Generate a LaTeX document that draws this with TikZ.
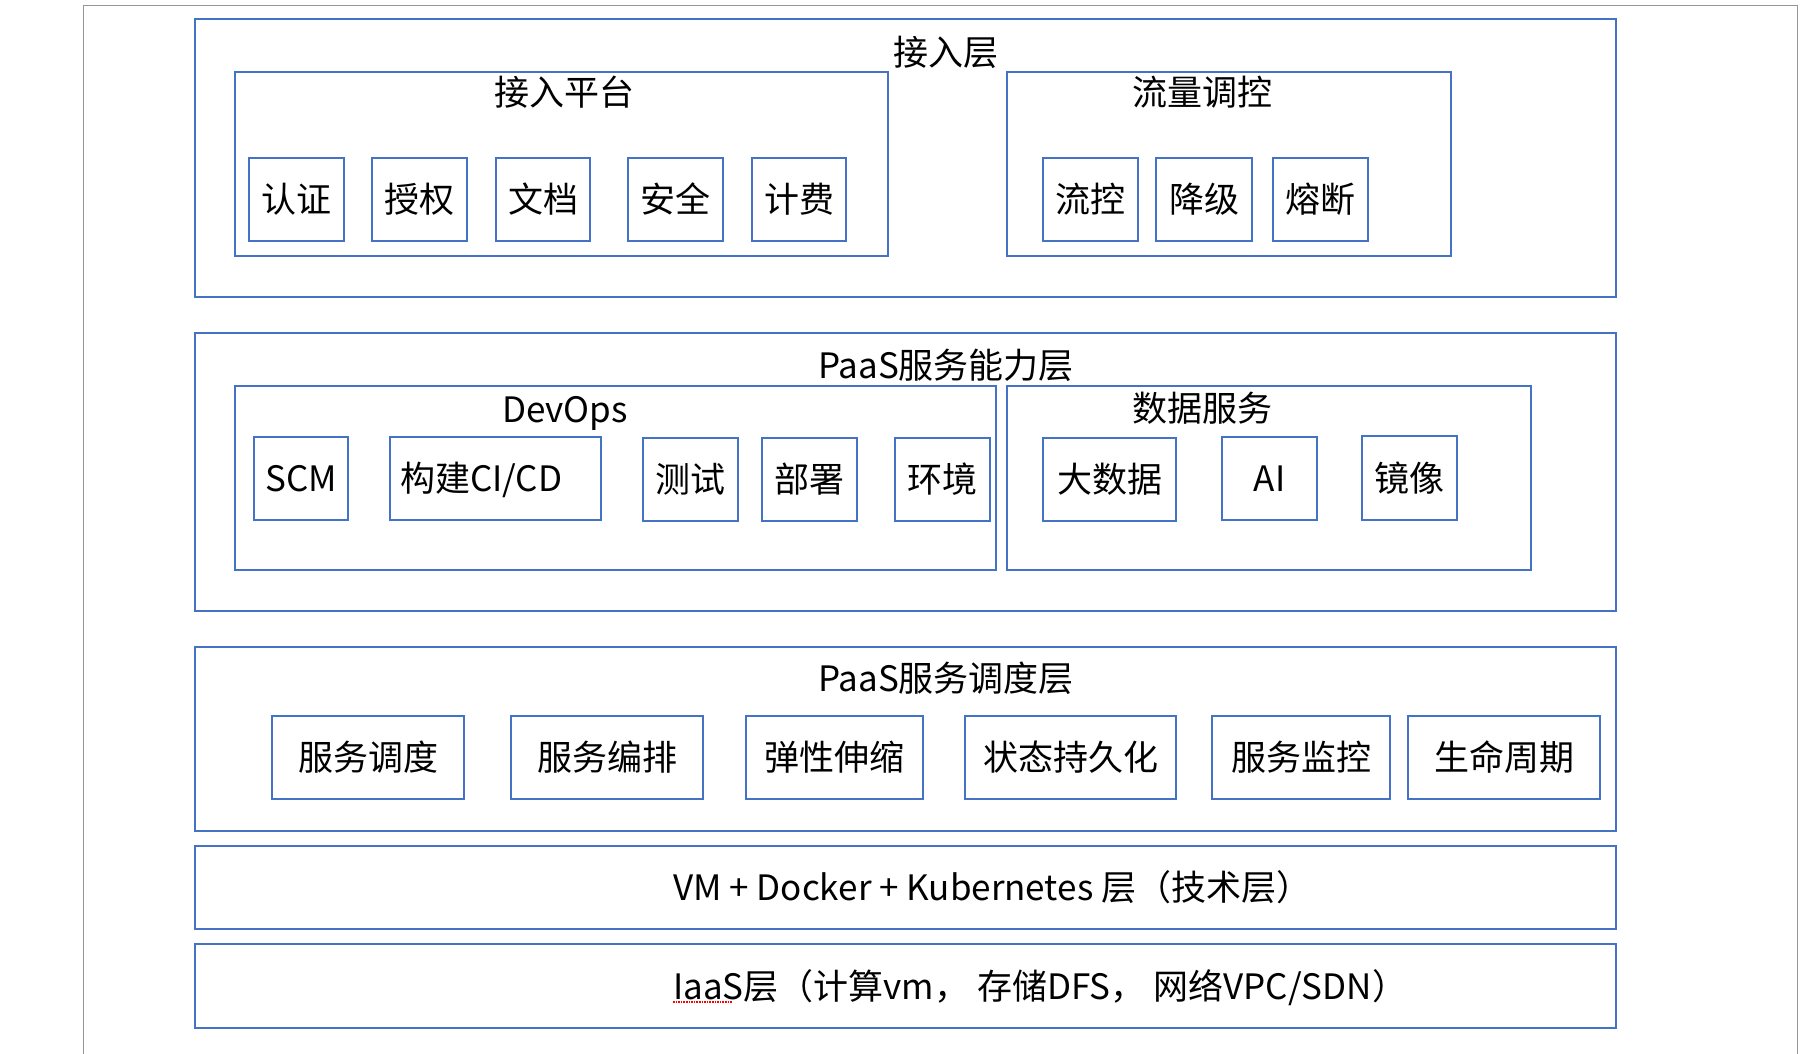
\documentclass[tikz,border=0pt]{standalone}
\usepackage{fontspec}
\setmainfont{Noto Sans CJK SC}
\definecolor{boxblue}{RGB}{68,114,196}
\definecolor{pagegray}{RGB}{150,150,150}
\newcommand\mybox[6]{\node[box, minimum width={#4-#2}, minimum height={#5-#3}] (#1) at ({(#2+#4)/2},{(#3+#5)/2}) {#6};}
\begin{document}
\begin{tikzpicture}[x=1pt,y=-1pt,
  box/.style={draw=boxblue, line width=1.6pt, inner sep=0pt, text height=30pt, text depth=4pt},
  lbl/.style={inner sep=0pt, text height=30pt, text depth=4pt},
  every node/.append style={font=\fontsize{35}{42}\selectfont}]
\useasboundingbox (0,0) rectangle (1812,1054);
% page frame
\coordinate (pgbl) at (83,1054);
\coordinate (pgtl) at (83,6);
\coordinate (pgtr) at (1797,6);
\coordinate (pgbr) at (1797,1054);
\draw[pagegray, line width=1pt] (pgbl) -- (pgtl) -- (pgtr) -- (pgbr);

% Layer 1
\mybox{L1}{195}{19}{1616}{297}{}
\node[lbl] (L1t) at (946,53) {接入层};
\mybox{P1}{235}{72}{888}{256}{}
\node[lbl] (P1t) at (564,93) {接入平台};
\mybox{a1}{249}{158}{344}{241}{认证}
\mybox{a2}{372}{158}{467}{241}{授权}
\mybox{a3}{496}{158}{590}{241}{文档}
\mybox{a4}{628}{158}{723}{241}{安全}
\mybox{a5}{752}{158}{846}{241}{计费}
\mybox{P2}{1007}{72}{1451}{256}{}
\node[lbl] (P2t) at (1202,93) {流量调控};
\mybox{b1}{1043}{158}{1138}{241}{流控}
\mybox{b2}{1156}{158}{1252}{241}{降级}
\mybox{b3}{1273}{158}{1368}{241}{熔断}

% Layer 2
\mybox{L2}{195}{333}{1616}{611}{}
\node[lbl] (L2t) at (946,365) {PaaS服务能力层};
\mybox{D1}{235}{386}{996}{570}{}
\node[lbl] (D1t) at (565,409) {DevOps};
\mybox{c1}{254}{437}{348}{520}{SCM}
\node[box, minimum width=211, minimum height=83, text width=191, align=left] (c2) at (495.5,478.5) {构建CI/CD};
\mybox{c3}{643}{438}{738}{521}{测试}
\mybox{c4}{762}{438}{857}{521}{部署}
\mybox{c5}{895}{438}{990}{521}{环境}
\mybox{D2}{1007}{386}{1531}{570}{}
\node[lbl] (D2t) at (1202,408) {数据服务};
\mybox{d1}{1043}{438}{1176}{521}{大数据}
\mybox{d2}{1222}{437}{1317}{520}{AI}
\mybox{d3}{1362}{436}{1457}{520}{镜像}

% Layer 3
\mybox{L3}{195}{647}{1616}{831}{}
\node[lbl] (L3t) at (946,678) {PaaS服务调度层};
\mybox{e1}{272}{716}{464}{799}{服务调度}
\mybox{e2}{511}{716}{703}{799}{服务编排}
\mybox{e3}{746}{716}{923}{799}{弹性伸缩}
\mybox{e4}{965}{716}{1176}{799}{状态持久化}
\mybox{e5}{1212}{716}{1390}{799}{服务监控}
\mybox{e6}{1408}{716}{1600}{799}{生命周期}

% Layer 4
\mybox{L4}{195}{846}{1616}{929}{}
\node[lbl, anchor=west] (L4t) at (673,887) {VM + Docker + Kubernetes 层（技术层）};

% Layer 5
\mybox{L5}{195}{944}{1616}{1028}{}
\node[lbl, anchor=west] (L5t) at (673,986) {IaaS层（计算vm， 存储DFS， 网络VPC/SDN）};
\draw[red, densely dotted, line width=1.6pt] ([yshift=-3pt]L5t.base west) -- ++(59,0);
\end{tikzpicture}
\end{document}
